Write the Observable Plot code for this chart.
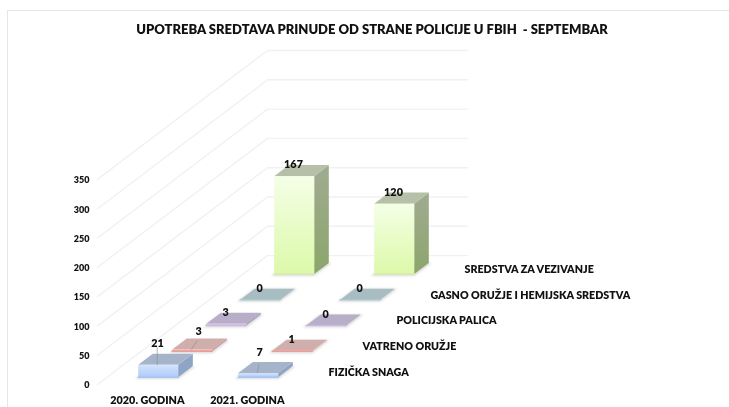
<!DOCTYPE html>
<html>
<head>
<meta charset="utf-8">
<script src="https://cdn.jsdelivr.net/npm/d3@7"></script>
<script src="https://cdn.jsdelivr.net/npm/@observablehq/plot@0.6"></script>
<style>
  html, body { margin: 0; padding: 0; background: #fff; }
  #page { position: relative; width: 729px; height: 407px; overflow: hidden; }
  #frame { position: absolute; left: 7px; top: 10px; right: -4px; bottom: -4px; border: 1.5px solid #e6e6e6; box-sizing: border-box; }
  #title { position: absolute; left: 0; top: 21px; width: 744px; text-align: center; font: 800 13px Lato, sans-serif; color: #111; white-space: pre; filter: blur(0.25px); }
  svg { position: absolute; left: 0; top: 0; background: transparent; }
</style>
</head>
<body>
<div id="page">
  <div id="frame"></div>
  <div id="title"></div>
</div>
<script>
const chartTitle = "UPOTREBA SREDTAVA PRINUDE OD STRANE POLICIJE U FBIH  - SEPTEMBAR";
const years = ["2020. GODINA", "2021. GODINA"];
const seriesNames = ["FIZIČKA SNAGA", "VATRENO ORUŽJE", "POLICIJSKA PALICA", "GASNO ORUŽJE I HEMIJSKA SREDSTVA", "SREDSTVA ZA VEZIVANJE"];
const fizickaSnaga = [21, 7];
const vatrenoOruzje = [3, 1];
const policijskaPalica = [3, 0];
const gasnoOruzje = [0, 0];
const sredstvaZaVezivanje = [167, 120];
const valueTicks = [0, 50, 100, 150, 200, 250, 300, 350];

const seriesValues = [fizickaSnaga, vatrenoOruzje, policijskaPalica, gasnoOruzje, sredstvaZaVezivanje];

// Styles per series: front gradient id, edge, top, side
const looks = [
  {front: "url(#gBlue)",   edge: "#a7c4f2", top: "#a6b4c9", side: "#8ea5c6"},
  {front: "url(#gRed)",    edge: "#ee9c98", top: "#cfaeac", side: "#c79c9a"},
  {front: "url(#gPurple)", edge: "#cbb8e0", top: "#b9aec8", side: "#ab9cc0"},
  {front: "url(#gTeal)",   edge: "#aac8cd", top: "#a7bdc2", side: "#9ab3b8"},
  {front: "url(#gGreen)",  edge: "#d5eba8", top: "#b6bfa7", side: "url(#gSide)"}
];

// Oblique projection into the plot's scale space
const depthX = 0.34, depthY = 44;
const px = (year, depth) => year + depth * depthX;
const py = (value, depth) => value + depth * depthY;
const V = (year, depth, value) => ({x: px(year, depth), y: py(value, depth)});

const barL = 0.31, barR = 0.71, depthF = 0.285, depthB = 0.715;

const shadows = [], faces = [], edges = [], bars = [];
for (let s = seriesNames.length - 1; s >= 0; --s) {
  years.forEach((_, yi) => {
    const v = seriesValues[s][yi], look = looks[s];
    const l = yi + barL, r = yi + barR, f = s + depthF, b = s + depthB;
    const id = `${s}-${yi}`;
    const poly = (out, name, fill, pts) => pts.forEach(p => out.push({...p, id: id + name, fill}));
    poly(shadows, "sh", "#8a8a8a", [V(l - 0.015, f - 0.05, -1), V(r + 0.02, f - 0.05, -1), V(r + 0.02, b + 0.02, -1), V(l - 0.015, b + 0.02, -1), V(l - 0.015, f - 0.05, -1)]);
    poly(faces, "s", look.side, [V(r, f, 0), V(r, b, 0), V(r, b, v), V(r, f, v), V(r, f, 0)]);
    poly(faces, "t", look.top, [V(l, f, v), V(r, f, v), V(r, b, v), V(l, b, v), V(l, f, v)]);
    poly(faces, "f", look.front, [V(l, f, 0), V(r, f, 0), V(r, f, v), V(l, f, v), V(l, f, 0)]);
    [[V(l, f, 0), V(r, f, 0)]].forEach(seg => seg.forEach(p => edges.push({...p, id, stroke: look.edge})));
    bars.push({s, yi, v, ...V(yi + 0.5, s + 0.5, v)});
  });
}

// Wall and floor gridlines
const grid = valueTicks.flatMap(t => [
  {id: t, ...V(0, 0, t)}, {id: t, ...V(0, seriesNames.length, t)}, {id: t, ...V(years.length, seriesNames.length, t)}
]);

// Labels that were pulled away from their bar, with a leader line
const leaderOf = (s, yi) => (s === 0 && yi === 0) ? {lift: 30, lean: 0.0, dx: 0, dy: -9.5}
  : (s === 1 && yi === 0) ? {lift: 15, lean: 0.06, dx: 7, dy: -6}
  : (s === 0 && yi === 1) ? {lift: 15, lean: 0.02, dx: 2, dy: -8.5}
  : null;

const plain = bars.filter(d => !leaderOf(d.s, d.yi));
const pulled = bars.filter(d => leaderOf(d.s, d.yi));
const font = {fontFamily: "Lato, sans-serif", fontWeight: 800, fill: "#111", imageFilter: "blur(0.25px)"};

const defs = () => d3.create("svg:defs").html(`
  <linearGradient id="gBlue" x1="0" y1="0" x2="0" y2="1"><stop offset="0" stop-color="#d3e3fc"/><stop offset="1" stop-color="#aecbf9"/></linearGradient>
  <linearGradient id="gRed" x1="0" y1="0" x2="0" y2="1"><stop offset="0" stop-color="#f5c6c4"/><stop offset="1" stop-color="#ee9c98"/></linearGradient>
  <linearGradient id="gPurple" x1="0" y1="0" x2="0" y2="1"><stop offset="0" stop-color="#e0d4ee"/><stop offset="1" stop-color="#cbb8e0"/></linearGradient>
  <linearGradient id="gTeal" x1="0" y1="0" x2="0" y2="1"><stop offset="0" stop-color="#cfe4e8"/><stop offset="1" stop-color="#aac8cd"/></linearGradient>
  <linearGradient id="gGreen" x1="0" y1="0" x2="0" y2="1"><stop offset="0" stop-color="#f4ffe6"/><stop offset="1" stop-color="#dcf9a9"/></linearGradient>
  <linearGradient id="gSide" x1="0" y1="0" x2="0" y2="1"><stop offset="0" stop-color="#a0ab91"/><stop offset="1" stop-color="#8ba66b"/></linearGradient>
`).node();

const chart = Plot.plot({
  width: 729, height: 407,
  marginLeft: 97, marginRight: 262, marginTop: 50, marginBottom: 23,
  x: {domain: [0, years.length + seriesNames.length * depthX], axis: null},
  y: {domain: [0, valueTicks[valueTicks.length - 1] + seriesNames.length * depthY], axis: null},
  color: {type: "identity"},
  style: {background: "transparent", overflow: "visible"},
  marks: [
    defs,
    Plot.line(grid, {x: "x", y: "y", z: "id", stroke: "#f1f1f1", strokeWidth: 1.4}),
    Plot.line(shadows, {x: "x", y: "y", z: "id", fill: "fill", fillOpacity: 0.3, stroke: "none", imageFilter: "blur(0.8px)"}),
    Plot.line(faces, {x: "x", y: "y", z: "id", fill: "fill", stroke: "none", imageFilter: "blur(0.35px)"}),
    Plot.line(edges, {x: "x", y: "y", z: "id", stroke: "stroke", strokeWidth: 1.5, imageFilter: "blur(0.35px)"}),
    Plot.link(pulled, {
      x1: d => px(d.yi + 0.5, d.s + depthF),
      y1: d => py(d.v, d.s + depthF),
      x2: d => px(d.yi + 0.5 + leaderOf(d.s, d.yi).lean, d.s + depthF),
      y2: d => py(d.v + leaderOf(d.s, d.yi).lift, d.s + depthF),
      stroke: "#8c8c8c", strokeWidth: 0.8, strokeOpacity: 0.8
    }),
    // data labels
    Plot.text(plain, {x: "x", y: "y", text: "v", dx: -7, dy: -6, fontSize: 10.8, ...font}),
    ...pulled.map(d => Plot.text([d], {x: "x", y: "y", text: "v",
      dx: -7 + leaderOf(d.s, d.yi).dx, dy: -6.5 + leaderOf(d.s, d.yi).dy, fontSize: 10.8, ...font})),
    // value axis
    Plot.text(valueTicks, {x: () => px(0, 0), y: d => d, text: d => d, dx: -8, dy: 1, textAnchor: "end", fontSize: 9, ...font}),
    // year labels
    Plot.text(years, {x: (d, i) => px(i + 0.5, 0), y: () => py(0, 0), text: d => d, dy: 16, fontSize: 10.8, ...font}),
    // series labels along the depth axis
    Plot.text(seriesNames, {x: (d, i) => px(years.length, i + 0.5), y: (d, i) => py(0, i + 0.5), text: d => d, dx: 14, dy: 1, textAnchor: "start", fontSize: 10.7, ...font})
  ]
});
document.getElementById("page").appendChild(chart);
document.getElementById("title").textContent = chartTitle;
</script>
</body>
</html>
